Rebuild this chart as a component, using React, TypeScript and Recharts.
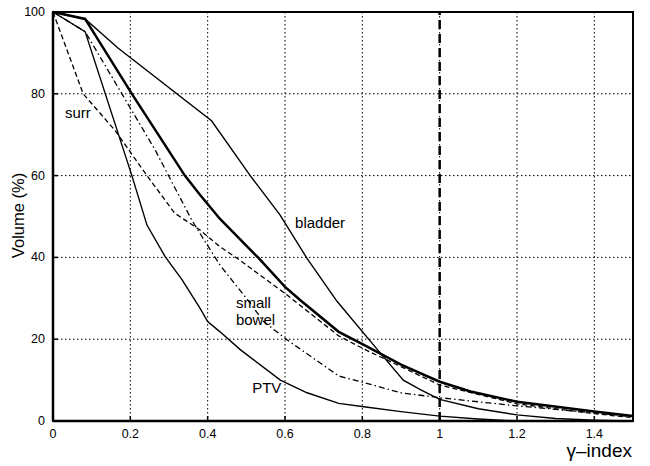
import React from "react";
import {
  LineChart,
  Line,
  XAxis,
  YAxis,
  CartesianGrid,
  ReferenceLine,
  ReferenceArea,
  ReferenceDot,
} from "recharts";

// gamma-index volume histograms, points as [gamma, volume %]
const bladder: [number, number][] = [
  [0, 100], [0.083, 98.3], [0.168, 91.2], [0.41, 73.4], [0.51, 60],
  [0.587, 50.4], [0.656, 39.9], [0.735, 29.2], [0.851, 16.1], [0.906, 10],
  [0.95, 7.7], [1.0, 5.3], [1.1, 3], [1.2, 1.5], [1.3, 0.6], [1.4, 0.2], [1.5, 0],
];
const overall: [number, number][] = [
  [0, 100], [0.083, 98.3], [0.204, 80], [0.341, 60], [0.38, 55.3],
  [0.432, 49.4], [0.532, 39.8], [0.6, 32.8], [0.639, 29.6], [0.739, 21.8],
  [0.804, 18.6], [0.9, 13.8], [1.0, 9.6], [1.08, 7.2], [1.2, 4.7], [1.4, 2.3], [1.5, 1.2],
];
const surr: [number, number][] = [
  [0, 100], [0.078, 80], [0.16, 71.1], [0.243, 60], [0.315, 50.8],
  [0.38, 46.7], [0.432, 42.6], [0.476, 39.8], [0.6, 31.2], [0.739, 20.8],
  [0.804, 17.6], [1.0, 8.8], [1.2, 4.2], [1.4, 1.8], [1.5, 0.8],
];
const smallBowel: [number, number][] = [
  [0, 100], [0.083, 95.2], [0.264, 66.3], [0.359, 49.1], [0.38, 45.9],
  [0.432, 38.1], [0.51, 28.8], [0.545, 24.3], [0.606, 19.8], [0.739, 11],
  [0.804, 9.4], [0.9, 6.9], [1.0, 5.7], [1.2, 3.7], [1.4, 2], [1.5, 1],
];
const ptv: [number, number][] = [
  [0, 100], [0.083, 95.2], [0.204, 60], [0.243, 47.9], [0.29, 40.2],
  [0.334, 34.5], [0.38, 27.6], [0.4, 24.3], [0.432, 21.8], [0.485, 17.4],
  [0.588, 10], [0.657, 6.9], [0.739, 4.3], [0.804, 3.5], [0.9, 2.3],
  [1.0, 1.2], [1.1, 0.5], [1.2, 0], [1.5, 0],
];

const xTicks = [0, 0.2, 0.4, 0.6, 0.8, 1, 1.2, 1.4];
const yTicks = [0, 20, 40, 60, 80, 100];

// curve labels: [text, gamma, volume] at the left-middle of the text
const curveLabels: [string, number, number][] = [
  ["surr", 0.031, 75.3],
  ["bladder", 0.626, 48.4],
  ["small", 0.473, 28.9],
  ["bowel", 0.473, 24.7],
  ["PTV", 0.515, 8.1],
];

const toRows = (pts: [number, number][]) => pts.map(([x, v]) => ({ x, v }));

const FONT = '"Liberation Sans", Arial, Helvetica, sans-serif';

function XTick(props: any) {
  const { x, y, payload } = props;
  return (
    <g>
      <line x1={x} x2={x} y1={y - 6} y2={y - 11} stroke="#000" strokeWidth={1.5} />
      <text x={x} y={y + 11} textAnchor="middle" fontSize={12.5} fill="#000" fontFamily={FONT}>
        {String(payload.value)}
      </text>
    </g>
  );
}

function YTick(props: any) {
  const { x, y, payload } = props;
  return (
    <g>
      <line x1={x + 8} x2={x + 13} y1={y} y2={y} stroke="#000" strokeWidth={1.5} />
      <text x={x} y={y + 4} textAnchor="end" fontSize={12.5} fill="#000" fontFamily={FONT}>
        {String(payload.value)}
      </text>
    </g>
  );
}

export default function App() {
  return (
    <div style={{ position: "absolute", left: 0, top: 0, background: "#fff" }}>
      <LineChart
        width={650}
        height={466}
        margin={{ top: 12, right: 17, bottom: 5, left: 3 }}
        style={{ fontFamily: FONT }}
      >
        <CartesianGrid stroke="#000" strokeDasharray="1.5 2.5" strokeWidth={1} />
        <XAxis
          dataKey="x"
          type="number"
          domain={[0, 1.5]}
          ticks={xTicks}
          height={40}
          tickSize={0}
          tickMargin={6}
          tickLine={false}
          axisLine={{ stroke: "#000", strokeWidth: 2.5 }}
          tick={<XTick />}
          label={{
            content: (p: any) => {
              const vb = p.viewBox;
              return (
                <text x={vb.x + vb.width - 1} y={vb.y + 36} textAnchor="end" fontSize={19} fill="#000" fontFamily={FONT}>
                  γ–index
                </text>
              );
            },
          }}
        />
        <XAxis
          xAxisId="top"
          orientation="top"
          type="number"
          domain={[0, 1.5]}
          ticks={xTicks}
          height={0}
          mirror
          tick={false}
          tickSize={5}
          tickLine={{ stroke: "#000", strokeWidth: 1.5 }}
          axisLine={false}
        />
        <YAxis
          type="number"
          domain={[0, 100]}
          ticks={yTicks}
          width={50}
          tickSize={0}
          tickMargin={8}
          tickLine={false}
          axisLine={{ stroke: "#000", strokeWidth: 2.5 }}
          tick={<YTick />}
          label={{
            content: (p: any) => {
              const vb = p.viewBox;
              const cx = vb.x + 21;
              const cy = vb.y + vb.height / 2 - 1;
              return (
                <text
                  x={cx}
                  y={cy}
                  transform={`rotate(-90, ${cx}, ${cy})`}
                  textAnchor="middle"
                  fontSize={16.5}
                  fill="#000"
                  fontFamily={FONT}
                >
                  Volume (%)
                </text>
              );
            },
          }}
        />
        <YAxis
          yAxisId="right"
          orientation="right"
          type="number"
          domain={[0, 100]}
          ticks={yTicks}
          width={0}
          mirror
          tick={false}
          tickSize={5}
          tickLine={{ stroke: "#000", strokeWidth: 1.5 }}
          axisLine={false}
        />
        <ReferenceArea x1={0} x2={1.5} y1={0} y2={100} fill="none" stroke="#000" strokeWidth={2} />
        <ReferenceLine x={1} stroke="#000" strokeWidth={2.5} strokeDasharray="9 5" />

        <Line data={toRows(bladder)} dataKey="v" type="linear" stroke="#000" strokeWidth={1.4} dot={false} isAnimationActive={false} />
        <Line data={toRows(ptv)} dataKey="v" type="linear" stroke="#000" strokeWidth={1.4} dot={false} isAnimationActive={false} />
        <Line data={toRows(smallBowel)} dataKey="v" type="linear" stroke="#000" strokeWidth={1.3} strokeDasharray="6 3 1.5 3" dot={false} isAnimationActive={false} />
        <Line data={toRows(surr)} dataKey="v" type="linear" stroke="#000" strokeWidth={1.3} strokeDasharray="5 3" dot={false} isAnimationActive={false} />
        <Line data={toRows(overall)} dataKey="v" type="linear" stroke="#000" strokeWidth={2.5} dot={false} isAnimationActive={false} />

        {curveLabels.map(([text, x, y]) => (
          <ReferenceDot
            key={text}
            x={x}
            y={y}
            r={0}
            fill="none"
            stroke="none"
            label={{ value: text, position: "right", offset: 0, fontSize: 15, fill: "#000", fontFamily: FONT }}
          />
        ))}
      </LineChart>
    </div>
  );
}
